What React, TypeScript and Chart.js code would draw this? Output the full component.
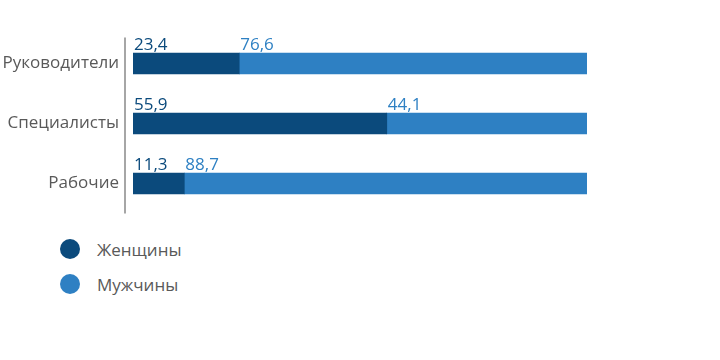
import React, { useEffect, useRef } from "react";
import { Chart, registerables } from "chart.js";

Chart.register(...registerables);

const categories = ["Руководители", "Специалисты", "Рабочие"];
const seriesNames = ["Женщины", "Мужчины"];
const women = [23.4, 55.9, 11.3];
const men = [76.6, 44.1, 88.7];
const colors = ["#0b4a7c", "#2e80c3"];

const FONT = "'Open Sans', 'Noto Sans', sans-serif";

const fmt = (v: number) => v.toFixed(1).replace(".", ",");

const overlay = {
  id: "overlay",
  afterDatasetsDraw(chart: any) {
    const ctx = chart.ctx;
    const area = chart.chartArea;
    ctx.save();
    // axis line
    ctx.strokeStyle = "#a6a6a6";
    ctx.lineWidth = 2;
    ctx.beginPath();
    ctx.moveTo(area.left - 8, area.top + 4);
    ctx.lineTo(area.left - 8, area.bottom);
    ctx.stroke();
    // data labels
    ctx.font = `17px ${FONT}`;
    ctx.textBaseline = "bottom";
    ctx.textAlign = "left";
    chart.data.datasets.forEach((ds: any, di: number) => {
      const meta = chart.getDatasetMeta(di);
      meta.data.forEach((bar: any, i: number) => {
        const p = bar.getProps(["x", "y", "base", "height"], true);
        const left = Math.min(p.x, p.base);
        ctx.fillStyle = colors[di];
        ctx.fillText(fmt(ds.data[i]), left + 1, p.y - p.height / 2 + 1);
      });
    });
    ctx.restore();
  },
};

export default function App() {
  const ref = useRef<HTMLCanvasElement>(null);
  useEffect(() => {
    if (!ref.current) return;
    const chart = new Chart(ref.current, {
      type: "bar",
      data: {
        labels: categories,
        datasets: [
          { label: seriesNames[0], data: women, backgroundColor: colors[0], barThickness: 21 },
          { label: seriesNames[1], data: men, backgroundColor: colors[1], barThickness: 21 },
        ],
      },
      options: {
        indexAxis: "y",
        animation: false,
        responsive: false,
        maintainAspectRatio: false,
        layout: { padding: { top: 33.5, bottom: 16.5, right: 133, left: 0 } },
        plugins: { legend: { display: false }, tooltip: { enabled: false } },
        scales: {
          x: { stacked: true, min: 0, max: 100, display: false },
          y: {
            stacked: true,
            afterFit: (s: any) => {
              s.width = 133;
              s.paddingTop = 0;
              s.paddingBottom = 0;
            },
            grid: { display: false, drawTicks: false },
            border: { display: false },
            ticks: { padding: 14, color: "#595959", font: { family: FONT, size: 17 } },
          },
        },
      },
      plugins: [overlay],
    });
    return () => chart.destroy();
  }, []);

  return (
    <div style={{ position: "fixed", left: 0, top: 0, width: 720, height: 360, background: "#fff", fontFamily: FONT }}>
      <canvas ref={ref} width={720} height={230} style={{ display: "block" }} />
      {seriesNames.map((n, i) => (
        <div
          key={n}
          style={{ position: "absolute", left: 60, top: 239 + i * 35, height: 20, display: "flex", alignItems: "center" }}
        >
          <span style={{ width: 20, height: 20, borderRadius: 10, background: colors[i], display: "inline-block" }} />
          <span style={{ marginLeft: 17, fontSize: 17, color: "#595959" }}>{n}</span>
        </div>
      ))}
    </div>
  );
}
